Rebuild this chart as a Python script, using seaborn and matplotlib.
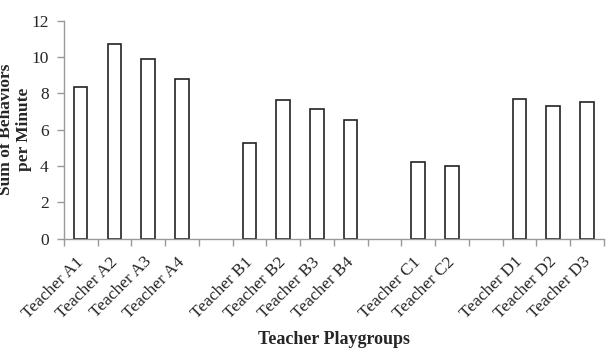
import numpy as np
import pandas as pd
import matplotlib
matplotlib.use("Agg")
import matplotlib.pyplot as plt
import matplotlib.transforms as mtransforms
import seaborn as sns
from matplotlib.ticker import FixedLocator

categories = ["Teacher A1", "Teacher A2", "Teacher A3", "Teacher A4", " ",
              "Teacher B1", "Teacher B2", "Teacher B3", "Teacher B4", "  ",
              "Teacher C1", "Teacher C2", "   ",
              "Teacher D1", "Teacher D2", "Teacher D3"]
values = [8.33, 10.72, 9.91, 8.79, np.nan,
          5.28, 7.62, 7.12, 6.53, np.nan,
          4.20, 3.98, np.nan,
          7.69, 7.30, 7.53]
yticks = [0, 2, 4, 6, 8, 10, 12]

df = pd.DataFrame({"group": categories, "value": values})

sns.set_theme(style="white")
plt.rcParams["font.family"] = ["Liberation Serif", "DejaVu Serif"]

fig = plt.figure(figsize=(6.08, 3.51), dpi=100)
ax = fig.add_axes([0.105, 0.32, 0.888, 0.621])

sns.barplot(data=df.dropna(), x="group", y="value", order=categories,
            color="white", edgecolor="#222222", linewidth=1.2, width=0.4,
            errorbar=None, ax=ax)

ax.set_xlim(-0.5, len(categories) - 0.5)
ax.set_ylim(0, 12)
ax.set_yticks(yticks)
ax.set_yticklabels([str(t) for t in yticks], fontsize=12.5)

ax.set_xticks(range(len(categories)))
ax.set_xticklabels(categories, rotation=45, ha="right", rotation_mode="anchor",
                   fontsize=12.5)
ax.tick_params(axis="x", which="major", length=0, pad=11)
offset = mtransforms.ScaledTranslation(-5 / 100, 0, fig.dpi_scale_trans)
for lbl in ax.get_xticklabels():
    lbl.set_transform(lbl.get_transform() + offset)
ax.xaxis.set_minor_locator(FixedLocator(np.arange(-0.5, len(categories), 1.0)))
ax.tick_params(axis="x", which="minor", length=5, width=1, color="#999999",
               direction="out", bottom=True)
ax.tick_params(axis="y", which="major", length=5, width=1, color="#999999",
               direction="out", left=True, pad=6)

for s in ["top", "right"]:
    ax.spines[s].set_visible(False)
for s in ["left", "bottom"]:
    ax.spines[s].set_color("#999999")
    ax.spines[s].set_linewidth(1)

ax.set_xlabel("Teacher Playgroups", fontsize=13, fontweight="bold", labelpad=6)
ax.set_ylabel("Sum of Behaviors\nper Minute", fontsize=12.5, fontweight="bold",
              linespacing=1.15)
ax.yaxis.set_label_coords(-0.059, 0.5)

fig.savefig("out.png", dpi=100)
